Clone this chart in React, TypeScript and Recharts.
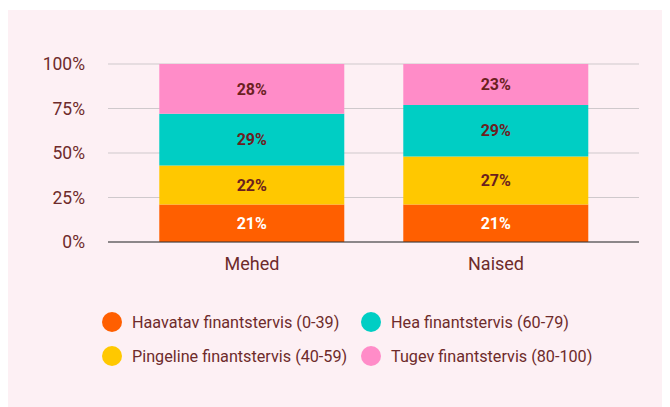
import { BarChart, Bar, XAxis, YAxis, CartesianGrid, LabelList } from "recharts";

const groups = ["Mehed", "Naised"];
const vulnerable = [21, 21];
const strained = [22, 27];
const good = [29, 29];
const strong = [28, 23];
const yTicks = [0, 25, 50, 75, 100];

const series = [
  { key: "vulnerable", name: "Haavatav finantstervis (0-39)", color: "#FF5F00", text: "#FFFFFF", values: vulnerable },
  { key: "strained", name: "Pingeline finantstervis (40-59)", color: "#FFC800", text: "#6B1F1F", values: strained },
  { key: "good", name: "Hea finantstervis (60-79)", color: "#00CEC4", text: "#6B1F1F", values: good },
  { key: "strong", name: "Tugev finantstervis (80-100)", color: "#FF8CC8", text: "#6B1F1F", values: strong },
];

const data = groups.map((g, i) => {
  const row: any = { group: g };
  series.forEach((s) => (row[s.key] = s.values[i]));
  return row;
});

// legend order: column-wise like the original
const legendOrder = [series[0], series[2], series[1], series[3]];

function App() {
  return (
    <div
      style={{
        position: "relative",
        width: 662,
        height: 397,
        marginTop: 2,
        background: "#FDF0F4",
        fontFamily: "Roboto, sans-serif",
      }}
    >
      <BarChart
        width={662}
        height={272}
        data={data}
        margin={{ top: 54, right: 31, left: 0, bottom: 0 }}
        barCategoryGap="12%"
      >
        <CartesianGrid vertical={false} stroke="#CFC9CC" />
        <XAxis
          dataKey="group"
          tickLine={false}
          axisLine={{ stroke: "#333" }}
          padding={{ left: 22, right: 21 }}
          tickMargin={9}
          height={40}
          tick={{ fill: "#6E2B2B", fontSize: 18 }}
        />
        <YAxis
          width={100}
          domain={[0, 100]}
          ticks={yTicks}
          tickFormatter={(v) => `${v}%`}
          axisLine={false}
          tickLine={false}
          tickMargin={17}
          tick={{ fill: "#6E2B2B", fontSize: 17.5 }}
        />
        {series.map((s) => (
          <Bar
            key={s.key}
            dataKey={s.key}
            name={s.name}
            stackId="a"
            fill={s.color}
            isAnimationActive={false}
          >
            <LabelList
              dataKey={s.key}
              position="center"
              formatter={(v: any) => `${v}%`}
              style={{ fill: s.text, fontSize: 16, fontWeight: 700 }}
            />
          </Bar>
        ))}
      </BarChart>
      <div
        style={{
          position: "absolute",
          left: 94,
          top: 302,
          display: "grid",
          gridTemplateColumns: "259px 290px",
          rowGap: 14,
        }}
      >
        {legendOrder.map((s) => (
          <div key={s.key} style={{ display: "flex", alignItems: "center", height: 20 }}>
            <span
              style={{
                width: 20,
                height: 20,
                borderRadius: "50%",
                background: s.color,
                marginRight: 10,
                flex: "none",
              }}
            />
            <span style={{ color: "#6E2B2B", fontSize: 16.2, whiteSpace: "nowrap" }}>{s.name}</span>
          </div>
        ))}
      </div>
    </div>
  );
}

export default App;
